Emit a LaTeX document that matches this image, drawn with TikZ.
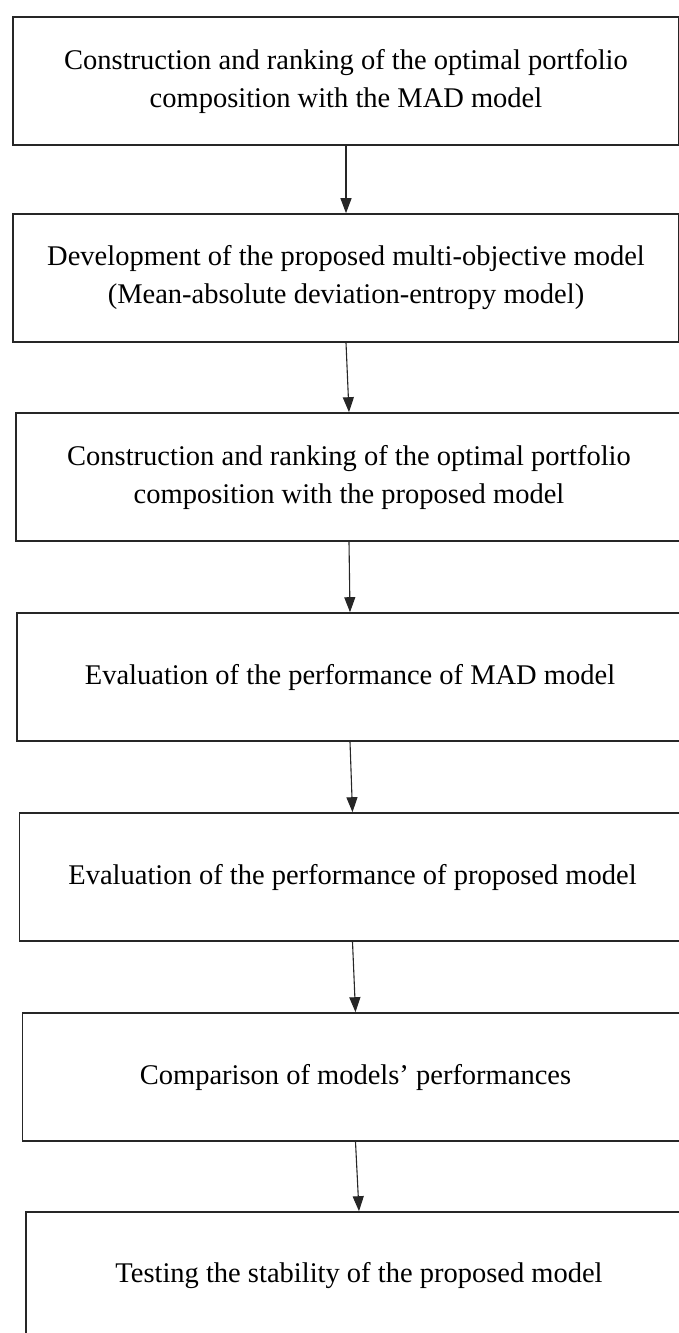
\documentclass[tikz,border=0pt]{standalone}
\usepackage{fontspec}
\setmainfont{Liberation Serif}
\usetikzlibrary{arrows.meta}

\begin{document}
\begin{tikzpicture}[x=1pt,y=-1pt,
    stage/.style={draw=black!85,line width=1.6pt,minimum width=666pt,minimum height=128pt,
        align=center,inner sep=0pt,font=\fontsize{28.5}{38}\selectfont},
    flow/.style={draw=black!85,line width=1.1pt,-{Triangle[length=15pt,width=11pt]}}]
    \useasboundingbox (0,0) rectangle (678,1333);
    \node[stage] (s1) at (346,81) {Construction and ranking of the optimal portfolio\\composition with the MAD model};
    \node[stage] (s2) at (346,278) {Development of the proposed multi-objective model\\(Mean-absolute deviation-entropy model)};
    \node[stage] (s3) at (349,477) {Construction and ranking of the optimal portfolio\\composition with the proposed model};
    \node[stage] (s4) at (350,677) {Evaluation of the performance of MAD model};
    \node[stage] (s5) at (352.5,877) {Evaluation of the performance of proposed model};
    \node[stage] (s6) at (355.5,1077) {Comparison of models' performances};
    \node[stage] (s7) at (359,1276) {Testing the stability of the proposed model};
    \foreach \a/\b in {s1/s2,s2/s3,s3/s4,s4/s5,s5/s6,s6/s7}
        \draw[flow] (\a.south) -- (\b.north);
\end{tikzpicture}
\end{document}
